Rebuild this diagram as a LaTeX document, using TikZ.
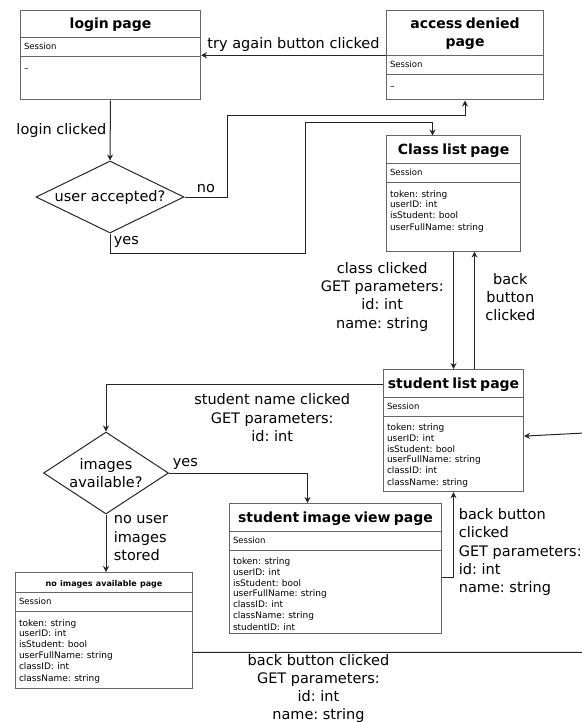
\documentclass[tikz,border=0pt]{standalone}
\usepackage{fontspec}
\setmainfont{DejaVu Sans}
\usetikzlibrary{shapes.multipart, shapes.geometric, positioning, arrows.meta}

\setlength{\parindent}{0pt}
\frenchspacing
\newcommand{\lblfont}{\fontsize{14.5}{18.2}\selectfont}
\newcommand{\titlefont}{\fontsize{14}{18}\selectfont\bfseries}
\newcommand{\sessfont}{\fontsize{8.5}{10}\selectfont}
\newcommand{\fieldfont}{\fontsize{9}{10.8}\selectfont}
% invisible strut: height, depth
\newcommand{\vstrut}[2]{\leavevmode\setbox0=\hbox{}\ht0=#1\dp0=#2\box0}
% the three rows of a page box
\newcommand{\pagetitle}[1]{{\centering\titlefont\vstrut{18pt}{0pt}#1\vstrut{0pt}{8.5pt}\par}}
\newcommand{\sessionrow}{\sessfont\vstrut{11.5pt}{6.5pt}Session}
\newcommand{\fields}[2][5pt]{\fieldfont\vstrut{14pt}{0pt}#2\vstrut{0pt}{#1}}

\begin{document}
\begin{tikzpicture}[
  x=1pt, y=-1pt,
  >={Stealth[length=6pt,width=6pt]},
  page/.style={rectangle split, rectangle split parts=3, draw=black!60,
    line width=1pt, anchor=north west, inner xsep=3.5pt, inner ysep=0pt,
    align=left},
  decision/.style={diamond, draw=black!85, line width=1pt, inner sep=0pt,
    font=\lblfont, align=center},
  lbl/.style={font=\lblfont, align=center},
  flow/.style={->, line width=1pt, draw=black!85}
]
  \useasboundingbox (0,0) rectangle (581,722);

  % pages
  \node[page, text width=173pt] (login) at (20,10)
    {\pagetitle{login page}
     \nodepart{two}\sessionrow
     \nodepart{three}\fields[28pt]{--}};
  \node[page, text width=150pt] (denied) at (386,10)
    {\pagetitle{access denied\\page}
     \nodepart{two}\sessionrow
     \nodepart{three}\fields[10pt]{--}};
  \node[page, text width=127pt] (class) at (386,135.5)
    {\pagetitle{Class list page}
     \nodepart{two}\sessionrow
     \nodepart{three}\fields[20pt]{token: string\\userID: int\\isStudent: bool\\userFullName: string}};
  \node[page, text width=133pt] (slist) at (383,369)
    {\pagetitle{student list page}
     \nodepart{two}\sessionrow
     \nodepart{three}\fields[5.5pt]{token: string\\userID: int\\isStudent: bool\\userFullName: string\\classID: int\\className: string}};
  \node[page, text width=205pt] (iview) at (229,503)
    {\pagetitle{student image view page}
     \nodepart{two}\sessionrow
     \nodepart{three}\fields[2pt]{token: string\\userID: int\\isStudent: bool\\userFullName: string\\classID: int\\className: string\\studentID: int}};
  \node[page, text width=170pt] (noimg) at (15,572)
    {{\centering\bfseries\fontsize{8}{10}\selectfont\vstrut{13pt}{0pt}no images available page\vstrut{0pt}{6pt}\par}
     \nodepart{two}\sessionrow
     \nodepart{three}\fields[6.5pt]{token: string\\userID: int\\isStudent: bool\\userFullName: string\\classID: int\\className: string}};

  % decisions
  \node[decision, minimum width=148pt, minimum height=72pt, shape aspect=2] (accept) at (110,197) {user accepted?};
  \node[decision, minimum width=125pt, minimum height=82pt, shape aspect=1.5] (images) at (106,473) {images\\available?};

  % transitions
  \draw[flow] (denied.west) -- node[lbl, above] {try again button clicked} (login.east);
  \draw[flow] (login.south) -- node[lbl, left] {login clicked} (accept.north);
  \draw[flow] (accept.east) -- node[lbl, above] {no} ++(43,0)
    |- ([yshift=-15pt]denied.south) -- (denied.south);
  \draw[flow] (accept.south) -- node[lbl, right, pos=0.4] {yes} ++(0,20) -- ++(195,0)
    |- ([xshift=-21pt,yshift=13pt]class.north) -- ([xshift=-21pt]class.north);
  \draw[flow] (class.south) -- node[lbl, left=6pt, pos=0.385]
    {class clicked\\GET parameters:\\id: int\\name: string} (class.south |- slist.north);
  \draw[flow] ([xshift=21pt]slist.north) -- node[lbl, right=7pt, pos=0.61]
    {back\\button\\clicked} ([xshift=21pt]slist.north |- class.south);
  \draw[flow] ([yshift=-15pt]slist.north west) -| node[lbl, below=6pt, pos=0.2]
    {student name clicked\\GET parameters:\\id: int} (images.north);
  \draw[flow] (images.east) -| node[lbl, above right, pos=0] {yes} ([xshift=-28pt]iview.north);
  \draw[flow] (images.south) -- node[lbl, right=4pt, align=left, pos=0.41]
    {no user\\images\\stored} (images.south |- noimg.north);
  \draw[flow] ([yshift=-9.5pt]iview.east) -| node[lbl, right=1.5pt, align=left, pos=0.65]
    {back button\\clicked\\GET parameters:\\id: int\\name: string} (slist.south);
  \coordinate (rim) at (585,433);
  \draw[flow] ([yshift=-22pt]noimg.east) -| node[lbl, below=-2pt, pos=0.16]
    {back button clicked\\GET parameters:\\id: int\\name: string} (rim)
    -- ([yshift=-5.5pt]slist.east);
\end{tikzpicture}
\end{document}
